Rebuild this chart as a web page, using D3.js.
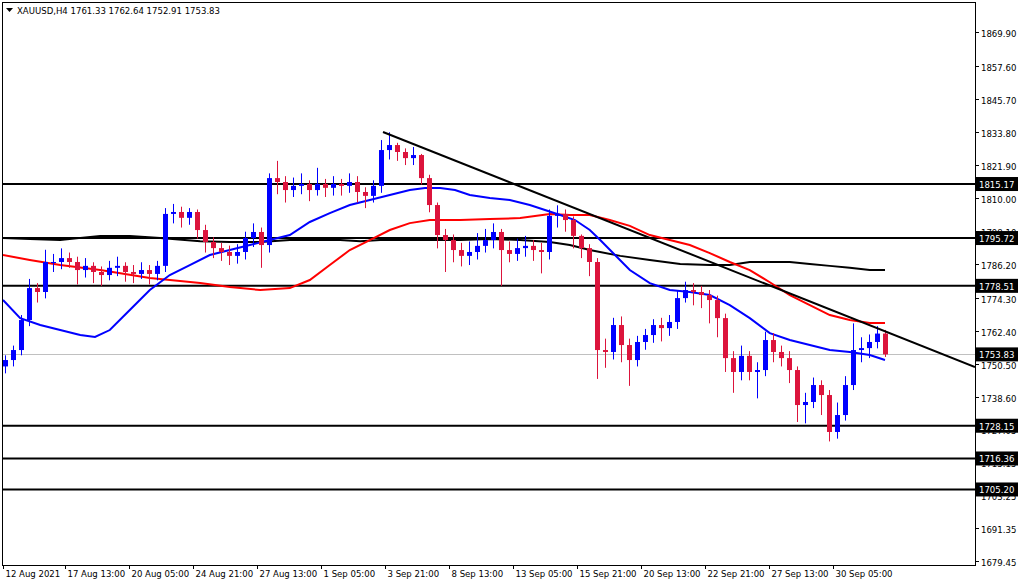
<!DOCTYPE html>
<meta charset="utf-8">
<style>
 body { margin: 0; background: #fff; }
 text { font-family: "DejaVu Sans Condensed", "Liberation Sans Narrow", "DejaVu Sans", sans-serif; font-size: 9.5px; font-stretch: condensed; }
</style>
<body>
<svg width="1020" height="584"></svg>
<script src="https://d3js.org/d3.v7.min.js"></script>
<script>
// closes per bar (8-hour bars), opens follow previous close
var closes = [1751.8,1755.4,1766.2,1777.7,1776.3,1787.1,1787.1,1788.5,1787.1,1784.2,
 1785.7,1783.5,1782.4,1785.0,1785.7,1783.5,1782.8,1784.2,1782.8,1785.7,
 1804.4,1805.1,1803.0,1805.1,1798.6,1794.3,1792.1,1790.7,1789.3,1790.7,
 1795.7,1797.9,1793.2,1817.3,1815.9,1813.0,1814.5,1815.2,1813.0,1815.2,
 1813.8,1815.2,1814.5,1815.9,1812.3,1810.9,1814.5,1827.4,1829.2,1826.7,
 1824.5,1825.6,1817.3,1807.6,1796.8,1795.0,1791.4,1789.3,1790.7,1792.9,
 1795.0,1797.9,1791.4,1790.0,1792.1,1792.9,1791.4,1790.7,1803.7,1804.4,
 1802.2,1796.5,1792.1,1787.1,1755.4,1754.7,1764.4,1757.2,1751.8,1758.3,
 1760.8,1764.4,1763.3,1765.5,1774.1,1777.0,1776.3,1775.2,1773.4,1766.9,
 1752.5,1747.5,1753.3,1747.5,1748.2,1759.0,1754.7,1752.5,1748.2,1735.6,
 1736.7,1742.8,1739.2,1725.9,1732.0,1742.8,1755.4,1756.1,1758.3,1761.33,1753.83];
var opens = [1749.5,1751.8,1755.4,1766.2,1777.7,1776.3,1787.1,1787.1,1788.5,1787.1,
 1784.2,1785.7,1783.5,1782.4,1785.0,1785.7,1783.5,1782.8,1784.2,1782.8,
 1785.7,1804.4,1805.1,1803.0,1805.1,1798.6,1794.3,1792.1,1790.7,1789.3,
 1790.7,1795.7,1797.9,1793.2,1817.3,1815.9,1813.0,1814.5,1815.2,1813.0,
 1815.2,1813.8,1815.2,1814.5,1815.9,1812.3,1810.9,1814.5,1827.4,1829.2,
 1826.7,1824.5,1825.6,1817.3,1807.6,1796.8,1795.0,1791.4,1789.3,1790.7,
 1792.9,1795.0,1797.9,1791.4,1790.0,1792.1,1792.9,1791.4,1790.7,1803.7,
 1804.4,1802.2,1796.5,1792.1,1787.1,1755.4,1754.7,1764.4,1757.2,1751.8,
 1758.3,1760.8,1764.4,1763.3,1765.5,1774.1,1777.0,1776.3,1775.2,1773.4,
 1766.9,1752.5,1747.5,1753.3,1747.5,1748.2,1759.0,1754.7,1752.5,1748.2,
 1735.6,1736.7,1742.8,1739.2,1725.9,1732.0,1742.8,1755.4,1756.1,1758.3,1761.33];
var highs = [1753.5,1757.0,1768.0,1781.0,1779.5,1791.5,1790.0,1792.0,1790.5,1789.0,
 1788.5,1787.0,1785.5,1787.5,1789.0,1787.0,1786.0,1787.0,1786.0,1787.5,
 1806.5,1808.0,1807.0,1806.5,1806.0,1800.5,1796.0,1794.0,1793.0,1793.5,
 1798.0,1801.0,1799.5,1819.0,1823.5,1818.0,1817.5,1819.0,1816.5,1821.0,
 1817.0,1818.0,1817.0,1819.0,1818.0,1814.0,1816.5,1831.0,1833.8,1830.0,
 1828.0,1828.5,1826.0,1818.5,1808.5,1799.0,1797.0,1794.0,1794.5,1797.5,
 1799.0,1801.0,1799.0,1794.5,1795.5,1796.5,1795.0,1794.0,1806.0,1807.5,
 1806.0,1803.5,1797.0,1793.5,1788.5,1759.5,1767.0,1767.5,1759.5,1760.5,
 1763.0,1766.5,1767.0,1768.0,1777.0,1780.0,1779.5,1778.5,1777.0,1775.0,
 1768.5,1755.0,1757.0,1755.0,1751.0,1762.0,1761.5,1757.0,1755.0,1749.5,
 1740.0,1745.5,1744.5,1741.0,1736.5,1746.0,1765.0,1760.0,1761.0,1764.0,1762.64];
var lows = [1747.0,1749.5,1753.5,1764.0,1772.5,1774.0,1783.5,1784.5,1785.0,1779.0,
 1781.5,1779.5,1778.5,1780.5,1782.0,1780.0,1779.5,1781.0,1779.0,1780.5,
 1783.5,1801.0,1799.5,1800.5,1795.5,1790.5,1788.5,1787.5,1786.0,1786.5,
 1788.0,1792.5,1785.0,1790.5,1811.5,1808.5,1810.5,1811.5,1809.0,1811.0,
 1810.5,1811.0,1811.0,1812.0,1808.5,1806.5,1808.5,1812.0,1824.0,1823.5,
 1822.0,1822.0,1815.0,1805.0,1792.0,1783.5,1787.0,1785.5,1786.0,1788.0,
 1790.5,1792.0,1778.5,1787.0,1787.5,1789.0,1787.5,1783.0,1788.0,1799.5,
 1798.0,1792.0,1788.5,1782.0,1745.0,1749.0,1752.0,1751.0,1742.5,1749.5,
 1755.5,1758.0,1758.5,1760.5,1763.0,1772.5,1771.5,1770.5,1765.0,1760.0,
 1747.5,1740.0,1744.5,1744.5,1738.0,1746.0,1751.0,1749.5,1743.5,1729.5,
 1729.0,1734.5,1732.0,1722.5,1723.5,1730.0,1741.0,1751.0,1752.5,1756.0,1752.91];

// moving averages: [bar index, price]
var maFast = [[-0.25,1773.4],[1.9,1766.9],[4.4,1764.4],[6.9,1762.6],[9.4,1760.8],[11.25,1760.1],[13.1,1762.6],[15.6,1769.8],[18.1,1777.0],[20.6,1782.4],[23.1,1786.0],[25.6,1789.6],[28.1,1791.4],[30.6,1793.2],[33.1,1795.0],[35.6,1796.8],[38.1,1801.5],[40.6,1804.7],[43.1,1807.6],[45.6,1809.4],[48.1,1811.2],[50.6,1813.0],[52.5,1813.7],[54.4,1813.7],[56.25,1813.0],[58.1,1811.2],[60.6,1810.1],[63.1,1809.4],[65.6,1807.6],[67.5,1805.8],[69.4,1804.0],[71.25,1802.2],[73.1,1798.6],[74.4,1795.0],[76.25,1789.6],[78.1,1784.2],[80.6,1779.5],[83.1,1777.0],[85.6,1776.3],[88.1,1775.2],[90.6,1771.6],[93.1,1766.9],[95.6,1761.5],[98.1,1759.0],[100.6,1757.2],[103.1,1755.4],[105.6,1754.7],[108.1,1753.6],[110,1751.8]];
var maMid = [[-0.25,1789.6],[3.1,1787.8],[6.9,1786.0],[11.9,1784.2],[18.1,1781.3],[24.4,1779.5],[28.1,1778.1],[31.9,1777.0],[35.6,1777.7],[38.1,1780.6],[40.6,1786.0],[43.1,1791.4],[45.6,1795.0],[48.1,1798.6],[50.6,1801.1],[53.1,1802.2],[56.9,1802.2],[60.6,1802.6],[64.4,1802.9],[68.1,1804.4],[70.6,1804.0],[73.1,1804.0],[75.6,1802.2],[78.1,1800.1],[80.6,1796.8],[83.1,1795.0],[85.6,1793.2],[88.1,1790.3],[90.6,1787.1],[93.1,1784.2],[95.6,1779.8],[98.1,1775.2],[100.6,1771.6],[103.1,1768.0],[105.6,1766.2],[108.1,1765.1],[110,1765.1]];
var maSlow = [[-0.25,1795.7],[3.1,1795.4],[6.9,1795.0],[11.9,1796.5],[15.6,1796.5],[19.4,1795.7],[24.4,1794.6],[28.1,1794.3],[31.9,1794.3],[35.6,1795.0],[38.1,1795.0],[41.9,1795.0],[44.4,1794.6],[46.9,1795.0],[49.4,1795.0],[53.1,1795.0],[56.9,1795.0],[60.6,1795.4],[64.4,1795.0],[68.1,1794.3],[70.6,1793.2],[73.1,1791.4],[76.9,1789.3],[80.6,1787.8],[84.4,1786.4],[88.1,1786.0],[90.6,1786.0],[93.1,1787.1],[95.6,1787.1],[98.1,1787.1],[100.6,1786.4],[103.1,1785.7],[105.6,1785.0],[108.1,1784.2],[110,1784.2]];

var levels = [1815.17, 1795.72, 1778.51, 1728.15, 1716.36, 1705.20];
var lastPrice = 1753.83;
var trend = [[47.25,1833.9],[121.25,1749.3]];
var priceTicks = ["1869.90","1857.60","1845.70","1833.80","1821.90","1810.00","1798.10","1786.20","1774.30","1762.40","1750.50","1738.60","1727.05","1715.15","1703.25","1691.35","1679.45"];
var timeLabels = ["12 Aug 2021","17 Aug 13:00","20 Aug 05:00","24 Aug 21:00","27 Aug 13:00","1 Sep 05:00","3 Sep 21:00","8 Sep 13:00","13 Sep 05:00","15 Sep 21:00","20 Sep 13:00","22 Sep 21:00","27 Sep 13:00","30 Sep 05:00"];
var timeIdx = [-0.25,7.5,15.5,23.5,31.5,39.5,47.5,55.5,63.5,71.5,79.5,87.5,95.5,103.5];

var svg = d3.select("svg");
var L = 3, R = 975, T = 3, B = 565;
var x = d3.scaleLinear().domain([0, 110]).range([5, 885]);
var y = d3.scaleLinear().domain([1679.45, 1869.90]).range([561, 32]);

svg.append("clipPath").attr("id", "clip").append("rect")
   .attr("x", L).attr("y", T).attr("width", R - L).attr("height", B - T);
var g = svg.append("g").attr("clip-path", "url(#clip)");

// current price line
g.append("line").attr("x1", L).attr("x2", R)
 .attr("y1", Math.round(y(lastPrice)) + 0.5).attr("y2", Math.round(y(lastPrice)) + 0.5)
 .attr("stroke", "#c0c0c0");

// horizontal levels
g.selectAll(".lvl").data(levels).enter().append("line")
 .attr("x1", L).attr("x2", R)
 .attr("y1", function(d) { return y(d); }).attr("y2", function(d) { return y(d); })
 .attr("stroke", "#000").attr("stroke-width", 2);

var line = d3.line().x(function(d) { return x(d[0]); }).y(function(d) { return y(d[1]); });
[[maSlow, "#000"], [maMid, "#ff0000"], [maFast, "#0000ff"]].forEach(function(m) {
  g.append("path").attr("d", line(m[0])).attr("fill", "none")
   .attr("stroke", m[1]).attr("stroke-width", 2);
});

// candles
var bars = d3.range(closes.length);
g.selectAll(".wick").data(bars).enter().append("line")
 .attr("x1", function(i) { return Math.round(x(i)) + 0.5; })
 .attr("x2", function(i) { return Math.round(x(i)) + 0.5; })
 .attr("y1", function(i) { return y(highs[i]); })
 .attr("y2", function(i) { return y(lows[i]); })
 .attr("stroke", function(i) { return closes[i] >= opens[i] ? "#0000ff" : "#dc143c"; });
g.selectAll(".body").data(bars).enter().append("rect")
 .attr("x", function(i) { return Math.round(x(i)) - 2; })
 .attr("width", 5)
 .attr("y", function(i) { return y(Math.max(opens[i], closes[i])); })
 .attr("height", function(i) { return Math.max(1, Math.abs(y(opens[i]) - y(closes[i]))); })
 .attr("fill", function(i) { return closes[i] >= opens[i] ? "#0000ff" : "#dc143c"; });

// trend line
g.append("path").attr("d", line(trend)).attr("stroke", "#000").attr("stroke-width", 2).attr("fill", "none");

// frame
svg.append("rect").attr("x", L - 0.5).attr("y", T - 0.5).attr("width", R - L + 1).attr("height", B - T + 1)
   .attr("fill", "none").attr("stroke", "#000");

// price axis
var ya = svg.append("g");
priceTicks.forEach(function(t) {
  var yy = Math.round(y(+t)) + 0.5;
  ya.append("line").attr("x1", R).attr("x2", R + 4).attr("y1", yy).attr("y2", yy).attr("stroke", "#000");
  ya.append("text").attr("x", R + 6).attr("y", yy + 4).text(t);
});
levels.concat([lastPrice]).forEach(function(v) {
  var yy = y(v);
  ya.append("rect").attr("x", R + 1).attr("y", yy - 7).attr("width", 42).attr("height", 14).attr("fill", "#000");
  ya.append("text").attr("x", R + 4).attr("y", yy + 4).attr("fill", "#fff").text(v.toFixed(2));
});

// time axis
var xa = svg.append("g");
timeIdx.forEach(function(t, k) {
  var xx = Math.round(x(t)) + 0.5;
  xa.append("line").attr("x1", xx).attr("x2", xx).attr("y1", B).attr("y2", B + 4).attr("stroke", "#000");
  xa.append("text").attr("x", xx + 2).attr("y", B + 12).text(timeLabels[k]);
});

// header
svg.append("path").attr("d", "M6,8 L13,8 L9.5,12 Z").attr("fill", "#000");
svg.append("text").attr("x", 17).attr("y", 14).text("XAUUSD,H4  1761.33 1762.64 1752.91 1753.83");
</script>
</body>
